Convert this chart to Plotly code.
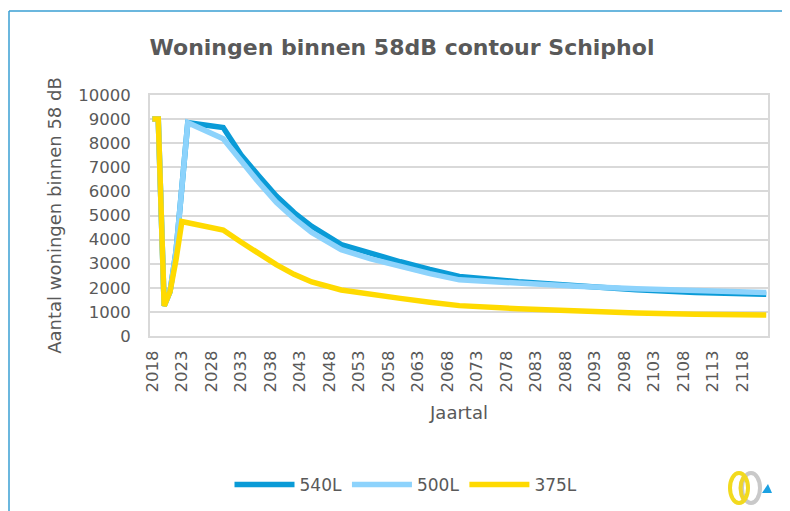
import plotly.graph_objects as go

# ---- data ----
years = [2018, 2019, 2020, 2021, 2022, 2023, 2024, 2030, 2033, 2036, 2039, 2042,
         2045, 2050, 2055, 2060, 2065, 2070, 2080, 2090, 2100, 2110, 2122]
s540 = [9000, 9000, 1250, 1850, 3500, 6200, 8850, 8650, 7520, 6650, 5810, 5120,
        4550, 3790, 3420, 3080, 2760, 2470, 2250, 2080, 1920, 1810, 1730]
s500 = [9000, 9000, 1250, 1850, 3500, 6200, 8850, 8180, 7250, 6380, 5550, 4880,
        4300, 3580, 3200, 2880, 2590, 2330, 2180, 2060, 1960, 1870, 1800]
s375 = [9000, 9000, 1250, 1850, 3150, 4750, 4700, 4400, 3900, 3400, 2960, 2560,
        2240, 1910, 1720, 1560, 1400, 1260, 1130, 1020, 950, 900, 870]
series_names = ["540L", "500L", "375L"]
series_colors = ["#0A9BD7", "#8DD3FC", "#FFDA00"]
x_tick_years = list(range(2018, 2119, 5))
y_ticks = list(range(0, 10001, 1000))

TITLE = "Woningen binnen 58dB contour Schiphol"
Y_TITLE = "Aantal woningen binnen 58 dB"
X_TITLE = "Jaartal"

OFF = 8                      # page body margin
W, H = 790 - OFF, 511 - OFF
L, R, T, B = 142, 22, 87, 175
PW, PH = W - L - R, H - T - B
FONT = "DejaVu Sans"
GREY = "#595959"


def px(x):
    """window pixel x -> paper coordinate"""
    return (x - OFF - L) / PW


def py(y):
    """window pixel y -> paper coordinate"""
    return (H - B - (y - OFF)) / PH


fig = go.Figure()
for name, vals, col in zip(series_names, [s540, s500, s375], series_colors):
    fig.add_trace(go.Scatter(x=years, y=vals, mode="lines", name=name,
                             line=dict(color=col, width=5.5)))

fig.update_layout(
    width=W, height=H,
    margin=dict(l=L, r=R, t=T, b=B, autoexpand=False),
    paper_bgcolor="white", plot_bgcolor="white",
    font=dict(family=FONT, color=GREY, size=16),
    title=dict(text="<b>" + TITLE + "</b>", x=(402 - OFF) / W, xanchor="center",
               y=1 - (47 - OFF) / H, yanchor="middle",
               font=dict(family=FONT, size=22, color=GREY)),
    legend=dict(orientation="h", x=px(406), xanchor="center", y=py(485),
                yanchor="middle", font=dict(size=17, color=GREY),
                itemwidth=60, bgcolor="rgba(0,0,0,0)"),
    showlegend=True,
)

fig.update_xaxes(
    automargin=False,
    range=[2017.6, 2122.3], tickmode="array", tickvals=x_tick_years,
    ticktext=[str(v) for v in x_tick_years], tickangle=-90,
    tickfont=dict(size=16.5, color=GREY),
    ticks="outside", ticklen=6, tickcolor="rgba(0,0,0,0)",
    showgrid=False, zeroline=False,
    showline=True, linecolor="#D9D9D9", linewidth=2, mirror=True,
    title=dict(text=X_TITLE, font=dict(size=18, color=GREY), standoff=15),
)
fig.update_yaxes(
    automargin=False,
    range=[0, 10000], tickmode="array", tickvals=y_ticks,
    ticktext=[str(v) for v in y_ticks],
    tickfont=dict(size=16.5, color=GREY),
    ticks="outside", ticklen=14, tickcolor="rgba(0,0,0,0)",
    showgrid=True, gridcolor="#D9D9D9", gridwidth=1.6, zeroline=False,
    showline=True, linecolor="#D9D9D9", linewidth=2, mirror=True,
    title=dict(text=Y_TITLE, font=dict(size=18, color=GREY), standoff=12),
)

# outer chart border (blue, left and top visible)
fig.add_shape(type="line", xref="paper", yref="paper",
              x0=px(9), x1=px(9), y0=py(11), y1=py(520),
              line=dict(color="#3A9FD3", width=1.5))
fig.add_shape(type="line", xref="paper", yref="paper",
              x0=px(9), x1=px(800), y0=py(11), y1=py(11),
              line=dict(color="#3A9FD3", width=1.5))

# small logo bottom-right
fig.add_shape(type="circle", xref="paper", yref="paper",
              x0=px(742), x1=px(760), y0=py(503), y1=py(473),
              line=dict(color="#C9C9C9", width=4))
fig.add_shape(type="circle", xref="paper", yref="paper",
              x0=px(730), x1=px(748), y0=py(503), y1=py(473),
              line=dict(color="#F2DA1E", width=4))
fig.add_shape(type="path", xref="paper", yref="paper",
              path=(f"M {px(744)},{py(476)} Q {px(737)},{py(488)} {px(744)},{py(501)}"),
              line=dict(color="#EFD52A", width=4))
fig.add_shape(type="path", xref="paper", yref="paper",
              path=(f"M {px(762)},{py(493)} L {px(772)},{py(493)} L {px(768)},{py(484)} Z"),
              fillcolor="#1BA1E2", line=dict(color="#1BA1E2", width=0))

fig.write_html("out.html")
